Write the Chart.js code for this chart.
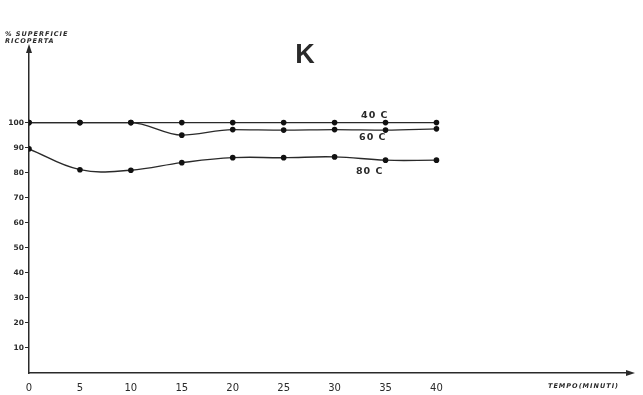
<!DOCTYPE html>
<html>
<head>
<meta charset="utf-8">
<script src="https://cdn.jsdelivr.net/npm/chart.js@4/dist/chart.umd.min.js"></script>
<style>
  html, body { margin: 0; padding: 0; background: #fff; }
  #wrap { width: 643px; height: 395px; position: relative; }
</style>
</head>
<body>
<div id="wrap"><canvas id="c"></canvas></div>
<script>
// time in minutes
const minutes = [0, 5, 10, 15, 20, 25, 30, 35, 40];
// % superficie ricoperta
const temp40 = [100, 100, 100, 100, 100, 100, 100, 100, 100];
const temp60 = [100, 100, 100, 95, 97.2, 97, 97.2, 97, 97.5];
const temp80 = [89.5, 81.2, 81, 84, 86, 86, 86.3, 85, 85];
const seriesNames = ["40 C", "60 C", "80 C"];
const yTickValues = [10, 20, 30, 40, 50, 60, 70, 80, 90, 100];

const ink = "#2a2a2a";
const toPts = arr => arr.map((v, i) => ({ x: minutes[i], y: v }));

// little text + arrows drawn on top of the chart
const decor = {
  id: "decor",
  afterDraw(chart) {
    const { ctx, chartArea: a, scales: { x, y } } = chart;
    ctx.save();
    ctx.fillStyle = ink;
    ctx.strokeStyle = ink;

    // arrow heads
    ctx.beginPath();
    ctx.moveTo(a.left, a.top - 6);
    ctx.lineTo(a.left - 3, a.top + 3);
    ctx.lineTo(a.left + 3, a.top + 3);
    ctx.closePath();
    ctx.fill();
    ctx.beginPath();
    ctx.moveTo(a.right + 5, a.bottom);
    ctx.lineTo(a.right - 4, a.bottom - 3);
    ctx.lineTo(a.right - 4, a.bottom + 3);
    ctx.closePath();
    ctx.fill();

    // title
    ctx.font = "bold 27px 'Liberation Sans', Arial, sans-serif";
    ctx.textAlign = "center";
    ctx.textBaseline = "middle";
    ctx.fillText("K", 305, 56);

    // axis titles
    ctx.font = "italic bold 6.5px 'DejaVu Sans', sans-serif";
    ctx.textAlign = "left";
    ctx.letterSpacing = "1px";
    ctx.fillText("% SUPERFICIE", 5, 34);
    ctx.fillText("RICOPERTA", 5, 41);
    ctx.fillText("TEMPO(MINUTI)", 548, 386);

    // series labels
    ctx.font = "bold 9.5px 'DejaVu Sans', sans-serif";
    ctx.letterSpacing = "1px";
    const lab = [[32.6, 103], [32.4, 94.2], [32.1, 80.6]];
    seriesNames.forEach((n, i) => {
      ctx.fillText(n, x.getPixelForValue(lab[i][0]), y.getPixelForValue(lab[i][1]));
    });
    ctx.restore();
  }
};

const lineStyle = {
  borderColor: ink,
  backgroundColor: ink,
  borderWidth: 1.4,
  pointRadius: 2.8,
  pointBackgroundColor: "#111",
  pointBorderWidth: 0,
  tension: 0.4,
  fill: false
};

new Chart(document.getElementById("c"), {
  type: "line",
  data: {
    datasets: [
      { label: seriesNames[0], data: toPts(temp40), ...lineStyle },
      { label: seriesNames[1], data: toPts(temp60), ...lineStyle, cubicInterpolationMode: "monotone" },
      { label: seriesNames[2], data: toPts(temp80), ...lineStyle }
    ]
  },
  options: {
    responsive: true,
    maintainAspectRatio: false,
    animation: false,
    layout: { padding: { left: 0, top: 50, right: 13, bottom: 0 } },
    plugins: { legend: { display: false }, tooltip: { enabled: false } },
    scales: {
      x: {
        type: "linear",
        min: 0,
        max: 59,
        afterFit: s => { s.height = 22; },
        afterBuildTicks: s => { s.ticks = minutes.map(v => ({ value: v })); },
        grid: { display: true, drawOnChartArea: false, drawTicks: false },
        border: { color: ink, width: 1.5 },
        ticks: {
          color: ink,
          padding: 9,
          maxRotation: 0,
          font: { family: "'DejaVu Sans', sans-serif", size: 10 }
        }
      },
      y: {
        min: 0,
        max: 129,
        afterFit: s => { s.width = 29; },
        afterBuildTicks: s => { s.ticks = yTickValues.map(v => ({ value: v })); },
        grid: { display: true, drawOnChartArea: false, drawTicks: true, tickLength: 4, color: ink },
        border: { color: ink, width: 1.5 },
        ticks: {
          color: ink,
          padding: 1,
          font: { family: "'DejaVu Sans', sans-serif", size: 7.5, weight: "bold" }
        }
      }
    }
  },
  plugins: [decor]
});
</script>
</body>
</html>
